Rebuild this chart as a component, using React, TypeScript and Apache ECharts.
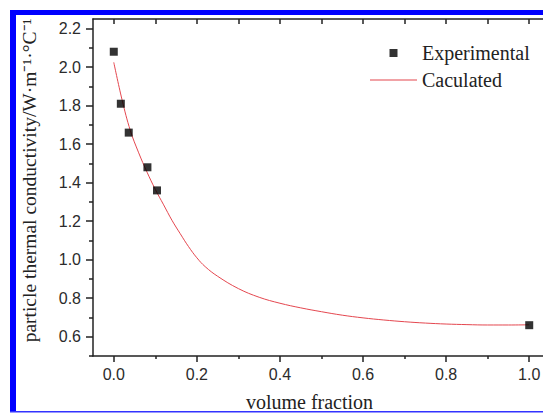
import React, { useEffect, useRef } from 'react';
import * as echarts from 'echarts';

const expX = [0.0, 0.017, 0.036, 0.081, 0.104, 1.0];
const expY = [2.08, 1.81, 1.66, 1.48, 1.36, 0.66];

const calcX = [0.0, 0.02, 0.04, 0.06, 0.08, 0.1, 0.12, 0.14, 0.16, 0.18, 0.2, 0.22, 0.25, 0.3, 0.35, 0.4, 0.45, 0.5, 0.55, 0.6, 0.65, 0.7, 0.75, 0.8, 0.85, 0.9, 0.95, 1.0];
const calcY = [2.025, 1.83, 1.67, 1.555, 1.455, 1.365, 1.285, 1.205, 1.135, 1.068, 1.01, 0.964, 0.914, 0.85, 0.805, 0.774, 0.75, 0.73, 0.712, 0.698, 0.687, 0.678, 0.671, 0.666, 0.663, 0.661, 0.661, 0.662];

const xMajorTicks = [0, 0.2, 0.4, 0.6, 0.8, 1.0];
const xMinorTicks = [0.1, 0.3, 0.5, 0.7, 0.9];
const xTopTicks = [0, 0.1, 0.2, 0.3, 0.4, 0.5, 0.6, 0.7, 0.8, 0.9, 1.0];
const yMajorTicks = [0.6, 0.8, 1.0, 1.2, 1.4, 1.6, 1.8, 2.0, 2.2];
const yMinorTicks = [0.5, 0.7, 0.9, 1.1, 1.3, 1.5, 1.7, 1.9, 2.1];

const xName = 'volume fraction';
const yName = 'particle thermal conductivity/W·m⁻¹·°C⁻¹';
const expName = 'Experimental';
const calcName = 'Caculated';

export default function App() {
  const ref = useRef<HTMLDivElement>(null);
  useEffect(() => {
    if (!ref.current) return;
    const chart = echarts.init(ref.current, undefined, { renderer: 'svg' });
    const axisColor = '#222';
    const labelColor = '#2b2b2b';
    const lineStyle = { color: axisColor, width: 1.5 };
    const curveColor = '#e4474f';
    chart.setOption({
      animation: false,
      backgroundColor: '#fff',
      grid: { left: 93, top: 19, bottom: 57, right: -7, containLabel: false, outerBoundsMode: 'none' },
      legend: {
        left: 365,
        top: 38,
        orient: 'vertical',
        itemWidth: 47,
        itemHeight: 8,
        itemGap: 7,
        textStyle: { fontFamily: 'Liberation Serif', fontSize: 20, color: '#222', lineHeight: 20 },
        data: [
          { name: expName, icon: 'path://M0 0H1V1H0Z' },
          { name: calcName, icon: 'path://M0 0H47V1H0Z' },
        ],
      },
      xAxis: [
        {
          type: 'value', min: -0.05, max: 1.05, position: 'bottom',
          axisLine: { show: true, onZero: false, lineStyle },
          axisTick: { show: true, customValues: xMajorTicks, length: 6, lineStyle },
          axisLabel: {
            customValues: xMajorTicks, formatter: (v: number) => v.toFixed(1),
            fontFamily: 'Liberation Sans', fontSize: 16, color: labelColor, margin: 10,
          },
          splitLine: { show: false },
          name: xName, nameLocation: 'middle', nameGap: 36,
          nameTextStyle: { fontFamily: 'Liberation Serif', fontSize: 20, color: '#222', padding: [0, 24, 0, 0] },
        },
        {
          type: 'value', min: -0.05, max: 1.05, position: 'bottom',
          axisLine: { show: false, onZero: false },
          axisTick: { show: true, customValues: xMinorTicks, length: 3, lineStyle },
          axisLabel: { show: false },
          splitLine: { show: false },
        },
        {
          type: 'value', min: -0.05, max: 1.05, position: 'top',
          axisLine: { show: true, onZero: false, lineStyle },
          axisTick: { show: true, inside: true, customValues: xTopTicks, length: 5, lineStyle },
          axisLabel: { show: false },
          splitLine: { show: false },
        },
      ],
      yAxis: [
        {
          type: 'value', min: 0.5, max: 2.25, position: 'left',
          axisLine: { show: true, onZero: false, lineStyle },
          axisTick: { show: true, customValues: yMajorTicks, length: 7, lineStyle },
          axisLabel: {
            customValues: yMajorTicks, formatter: (v: number) => v.toFixed(1),
            fontFamily: 'Liberation Sans', fontSize: 16, color: labelColor, margin: 12,
          },
          splitLine: { show: false },
          name: yName, nameLocation: 'middle', nameRotate: 90, nameGap: 54,
          nameTextStyle: { fontFamily: 'Liberation Serif', fontSize: 19.5, color: '#222', padding: [0, 0, 0, 14] },
        },
        {
          type: 'value', min: 0.5, max: 2.25, position: 'left',
          axisLine: { show: false, onZero: false },
          axisTick: { show: true, customValues: yMinorTicks, length: 4, lineStyle },
          axisLabel: { show: false },
          splitLine: { show: false },
        },
      ],
      series: [
        {
          name: calcName, type: 'line', xAxisIndex: 0, yAxisIndex: 0,
          data: calcX.map((x, i) => [x, calcY[i]]),
          symbol: 'none', smooth: 0.4,
          lineStyle: { color: curveColor, width: 1 },
          itemStyle: { color: curveColor },
          z: 2,
        },
        {
          name: expName, type: 'scatter', xAxisIndex: 0, yAxisIndex: 0,
          data: expX.map((x, i) => [x, expY[i]]),
          symbol: 'rect', symbolSize: 8,
          itemStyle: { color: '#000' },
          z: 3,
        },
      ],
      graphic: [
        { type: 'rect', shape: { x: 10, y: 10, width: 6, height: 402 }, style: { fill: '#0000ff' } },
        { type: 'rect', shape: { x: 10, y: 10, width: 533, height: 5 }, style: { fill: '#0000ff' } },
        { type: 'rect', shape: { x: 10, y: 411, width: 533, height: 1.5 }, style: { fill: '#3333ff' } },
      ],
    });
    return () => chart.dispose();
  }, []);
  return <div ref={ref} style={{ position: 'absolute', left: 0, top: 0, width: 543, height: 413 }} />;
}
